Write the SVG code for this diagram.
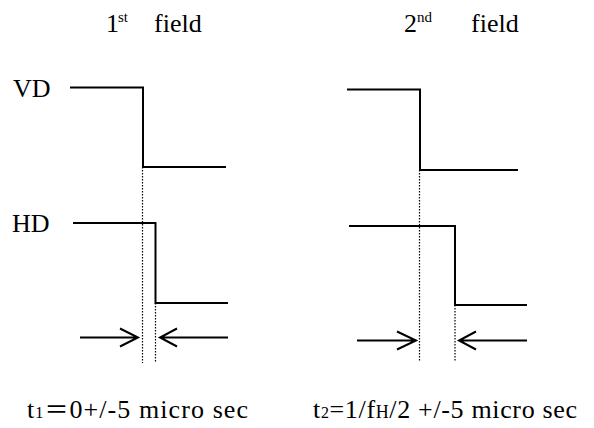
<svg xmlns="http://www.w3.org/2000/svg" width="594" height="428" viewBox="0 0 594 428">
<defs>
<style>
.t{font-family:'Liberation Serif',serif;fill:#000;font-size:26px}
.cjk{font-family:'Noto Sans CJK JP',sans-serif}
.sig{fill:none;stroke:#000;stroke-width:2}
.dot{fill:none;stroke:#000;stroke-width:1.2;stroke-dasharray:1.5 1.5}
.arr{fill:none;stroke:#000;stroke-width:2}
</style>
</defs>
<rect width="594" height="428" fill="#fff"/>
<g id="title1"><text class="t" y="32"><tspan x="106">1</tspan><tspan x="118" y="22" font-size="15">st</tspan><tspan x="154" y="32">field</tspan></text></g>
<g id="title2"><text class="t" y="32"><tspan x="404">2</tspan><tspan x="417" y="22" font-size="15">nd</tspan><tspan x="471" y="32">field</tspan></text></g>
<g id="label-vd"><text class="t" x="13" y="97">VD</text></g>
<g id="label-hd"><text class="t" x="12" y="232">HD</text></g>
<g id="vd1"><path class="sig" d="M70,87.5 H143 V167 H226"/></g>
<g id="hd1"><path class="sig" d="M73,223 H155.5 V303 H228"/></g>
<g id="vd2"><path class="sig" d="M347,89.5 H420 V170 H518"/></g>
<g id="hd2"><path class="sig" d="M349,226 H455 V305 H527"/></g>
<g id="connectors">
<path class="dot" d="M142.5,167 V363 M155.5,303 V363 M419.5,170 V361 M455,305 V361"/>
<path class="arr" d="M80,337.5 H138 M120,328.5 L138,337.5 L120,346.5 M160,337.5 H228 M177,328.5 L160,337.5 L177,346.5"/>
<path class="arr" d="M357,340.5 H416 M397,331.5 L416,340.5 L397,349.5 M459,340.5 H527 M476,331.5 L459,340.5 L476,349.5"/>
</g>
<g id="caption1"><text class="t" x="27" y="418" textLength="221" lengthAdjust="spacing">t<tspan font-size="16">1</tspan><tspan class="cjk" font-size="24">＝</tspan>0+/-5 micro sec</text></g>
<g id="caption2"><text class="t" x="313" y="418" textLength="264" lengthAdjust="spacing">t<tspan font-size="16">2</tspan>=1/f<tspan font-size="18">H</tspan>/2 +/-5 micro sec</text></g>
</svg>
